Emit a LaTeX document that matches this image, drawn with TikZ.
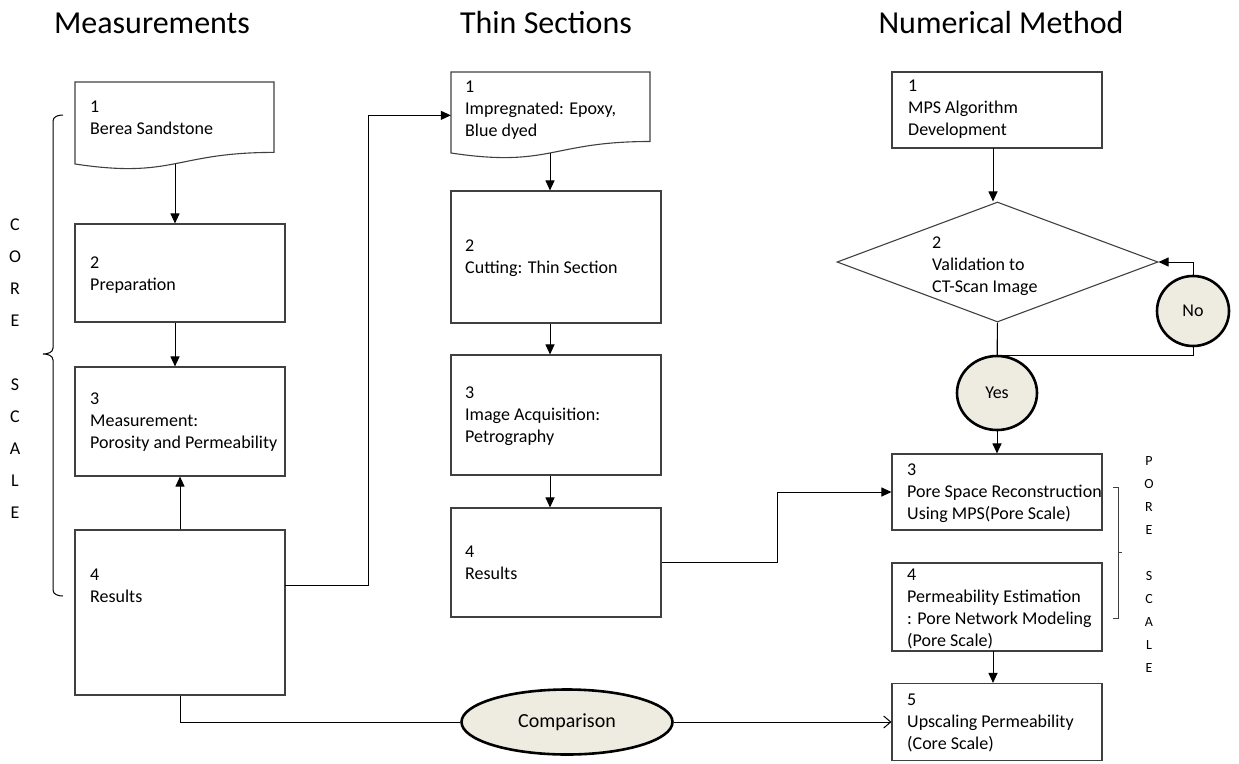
\documentclass[tikz,border=0pt]{standalone}
\usepackage{fontspec}
\setmainfont{Carlito}
\usetikzlibrary{arrows.meta,shapes.geometric,calc}
\definecolor{ovalfill}{RGB}{238,236,225}
\definecolor{lineg}{RGB}{64,64,64}
\begin{document}
\begin{tikzpicture}[x=1pt,y=-1pt,
 boxline/.style={draw=lineg,line width=1.1pt},
 sbox/.style={boxline,rectangle,inner sep=0pt},
 hidden/.style={rectangle,inner sep=0pt},
 txt/.style={inner sep=0pt,align=left,font=\fontsize{18}{22}\selectfont,anchor=west},
 head/.style={inner sep=0pt,font=\fontsize{32}{38}\selectfont,anchor=base},
 oval/.style={ellipse,draw=black,line width=2.6pt,fill=ovalfill,inner sep=0pt,font=\fontsize{18}{22}\selectfont},
 arr/.style={draw=black,line width=1pt,-{Triangle[length=10pt,width=9pt]}},
 openarr/.style={draw=black,line width=1pt,-{Straight Barb[length=7pt,width=12pt]}},
 conn/.style={draw=black,line width=1pt},
 vlet/.style={inner sep=0pt,align=center,anchor=north},
]
\useasboundingbox (0,0) rectangle (1239,763);

% headings
\node[head] (h1) at (152,33) {Measurements};
\node[head] (h2) at (546,33) {Thin Sections};
\node[head] (h3) at (1001,33) {Numerical Method};

% left column
\node[hidden,minimum width=199pt,minimum height=88pt] (L1) at (174.5,126) {};
\draw[boxline] (75,82) -- (274,82) -- (274,152.4) .. controls (174.5,152.4) and (174.5,179) .. (75,164) -- cycle;
\node[txt] (L1t) at (90,118) {1\\Berea Sandstone};
\coordinate (L1b) at (175,164);
\node[sbox,minimum width=210pt,minimum height=98pt] (L2) at (180,273) {};
\node[txt] (L2t) at (90,275) {2\\Preparation};
\node[sbox,minimum width=210pt,minimum height=109pt] (L3) at (180,421.5) {};
\node[txt] (L3t) at (90,422) {3\\Measurement:\\Porosity and Permeability};
\node[sbox,minimum width=210pt,minimum height=165pt] (L4) at (180,612.5) {};
\node[txt] (L4t) at (90,586) {4\\Results};
\coordinate (L4r) at (285,585);

\draw[arr] (L1b) -- (L1b |- L2.north);
\draw[arr] (L2.south -| L1b) -- (L3.north -| L1b);
\draw[arr] (L4.north) -- (L3.south);

% middle column
\node[hidden,minimum width=199pt,minimum height=86.7pt] (M1) at (550.5,115.35) {};
\draw[boxline] (451,72) -- (650,72) -- (650,141.5) .. controls (550.5,141.5) and (550.5,168) .. (451,153) -- cycle;
\node[txt] (M1t) at (465,110) {1\\Impregnated: Epoxy,\\Blue dyed};
\coordinate (M1b) at (550,153);
\node[sbox,minimum width=210pt,minimum height=132pt] (M2) at (556,257) {};
\node[txt] (M2t) at (465,258) {2\\Cutting: Thin Section};
\node[sbox,minimum width=210pt,minimum height=120pt] (M3) at (556,415) {};
\node[txt] (M3t) at (465,416) {3\\Image Acquisition:\\Petrography};
\node[sbox,minimum width=210pt,minimum height=109pt] (M4) at (556,562.5) {};
\node[txt] (M4t) at (465,563) {4\\Results};

\draw[arr] (M1b) -- (M1b |- M2.north);
\draw[arr] (M2.south -| M1b) -- (M3.north -| M1b);
\draw[arr] (M3.south -| M1b) -- (M4.north -| M1b);

\draw[arr] (L4r) -- ++(83,0) |- (M1.west);

% right column
\node[sbox,minimum width=210pt,minimum height=76pt] (R1) at (997,110) {};
\node[txt] (R1t) at (908,109) {1\\MPS Algorithm\\Development};
\coordinate (R1b) at (993,148);
\node[diamond,boxline,minimum width=321pt,minimum height=120pt,inner sep=0pt] (D) at (997.5,262) {};
\node[txt] (Dt) at (932,266) {2\\Validation to\\CT-Scan Image};
\node[oval,minimum width=80pt,minimum height=74pt] (Y) at (997,393) {Yes};
\node[oval,minimum width=72pt,minimum height=70pt] (N) at (1193,311) {No};
\node[sbox,minimum width=210pt,minimum height=76pt] (R3) at (997,492) {};
\node[txt] (R3t) at (907,493) {3\\Pore Space Reconstruction\\Using MPS(Pore Scale)};
\node[sbox,minimum width=210pt,minimum height=88pt] (R4) at (997,607) {};
\node[txt] (R4t) at (907,609) {4\\Permeability Estimation\\: Pore Network Modeling\\(Pore Scale)};
\coordinate (R4b) at (993,651);
\node[sbox,minimum width=210pt,minimum height=77pt] (R5) at (997,722) {};
\node[txt] (R5t) at (907,723) {5\\Upscaling Permeability\\(Core Scale)};

\draw[arr] (R1b) -- (R1b |- D.north);
\draw[conn] (D.south) -- (Y.north);
\draw[conn] (D.south) -- ++(0,33) -| (N.south);
\draw[arr] (N.north) |- (D.east);
\draw[arr] (Y.south) -- (R3.north);
\draw[arr] (R4b) -- (R4b |- R5.north);
\draw[arr] (M4.east) -- (777,562.5) |- (R3.west);

% comparison
\node[oval,minimum width=211pt,minimum height=65pt,font=\fontsize{20}{24}\selectfont] (C) at (567,722) {Comparison};
\draw[conn] (L4.south) |- (C.west);
\draw[openarr] (C.east) -- (R5.west);

% braces
\draw[conn] (63,115) to[out=180,in=90] (53,121) -- (53,348) to[out=-90,in=0] (43,354) to[out=0,in=90] (53,360) -- (53,590) to[out=-90,in=180] (63,596);
\draw[conn,draw=lineg] (1113,487) -| (1118,618) -- (1113,618);
\draw[conn,draw=lineg] (1118,552) -- (1122,552);

% vertical labels
\node[vlet,font=\fontsize{18}{32}\selectfont] (core) at (15,219) {C\\O\\R\\E\\[32pt]S\\C\\A\\L\\E};
\node[vlet,font=\fontsize{14}{23}\selectfont] (pore) at (1149,456) {P\\O\\R\\E\\[23pt]S\\C\\A\\L\\E};
\end{tikzpicture}
\end{document}
